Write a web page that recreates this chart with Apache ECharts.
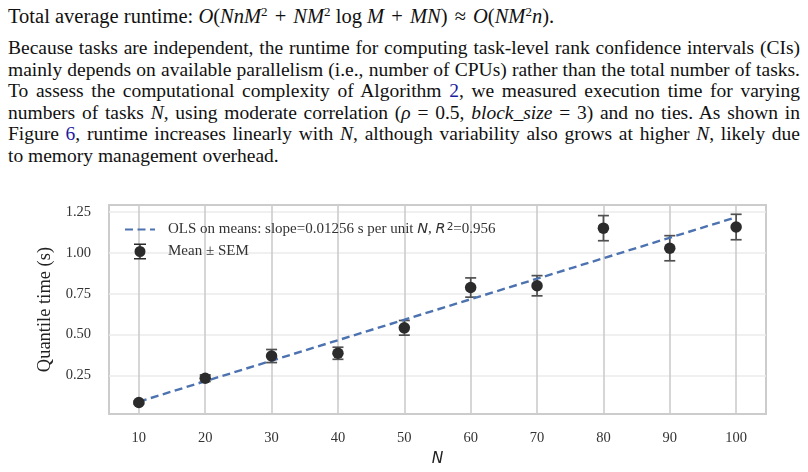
<!DOCTYPE html>
<html>
<head>
<meta charset="utf-8">
<script src="https://cdn.jsdelivr.net/npm/echarts@6/dist/echarts.min.js"></script>
<style>
  html, body { margin: 0; padding: 0; background: #fff; }
  body { width: 808px; height: 472px; position: relative; overflow: hidden;
         font-family: "Liberation Serif", "Times New Roman", serif; color: #111; }
  .ln { position: absolute; left: 8px; width: 792px; font-size: 19.5px; line-height: 21.5px;
        white-space: nowrap; }
  .j { text-align: justify; text-align-last: justify; }
  sup { font-size: 13px; line-height: 0; vertical-align: 7px; }
  .op { padding: 0 2px; }
  .ref { color: #1c1ca0; }
  #chart { position: absolute; left: 0; top: 190px; width: 808px; height: 282px; }
</style>
</head>
<body>
<div class="ln" style="top:6px; font-size:20.5px">Total average runtime: <i>O</i>(<i>NnM</i><sup>2</sup> <span class="op">+</span> <i>NM</i><sup>2</sup> log <i>M</i> <span class="op">+</span> <i>MN</i>) <span class="op">≈</span> <i>O</i>(<i>NM</i><sup>2</sup><i>n</i>).</div>
<div class="ln j" style="top:37px">Because tasks are independent, the runtime for computing task-level rank confidence intervals (CIs)</div>
<div class="ln j" style="top:58.5px">mainly depends on available parallelism (i.e., number of CPUs) rather than the total number of tasks.</div>
<div class="ln j" style="top:80px">To assess the computational complexity of Algorithm <span class="ref">2</span>, we measured execution time for varying</div>
<div class="ln j" style="top:101.5px">numbers of tasks <i>N</i>, using moderate correlation (<i>ρ</i> = 0.5, <i>block_size</i> = 3) and no ties. As shown in</div>
<div class="ln j" style="top:123px">Figure <span class="ref">6</span>, runtime increases linearly with <i>N</i>, although variability also grows at higher <i>N</i>, likely due</div>
<div class="ln" style="top:144.5px">to memory management overhead.</div>

<div id="chart"></div>
<script>
// measured runtimes
const nValues = [10, 20, 30, 40, 50, 60, 70, 80, 90, 100];
const meanTime = [0.083, 0.232, 0.368, 0.385, 0.541, 0.788, 0.799, 1.152, 1.029, 1.159];
const semTime = [0.008, 0.02, 0.04, 0.037, 0.045, 0.059, 0.062, 0.077, 0.077, 0.078];

// OLS fit on the means, end points
const olsN = [10, 100];
const olsTime = [0.088, 1.219];

const xTicks = [10, 20, 30, 40, 50, 60, 70, 80, 90, 100];
const yTicks = [0.25, 0.5, 0.75, 1.0, 1.25];

const serif = "Liberation Serif";
const olsName = "ols";
const semName = "Mean ± SEM";

let chart = echarts.init(document.getElementById("chart"));

let option = {
  animation: false,
  grid: {
    left: 109, right: 42, top: 15, bottom: 57,
    show: true,
    borderColor: "#cccccc",
    borderWidth: 2
  },
  legend: {
    orient: "vertical",
    left: 124,
    top: 31.5,
    padding: 0,
    itemWidth: 30,
    itemHeight: 16,
    itemGap: 5,
    selectedMode: false,
    textStyle: {
      fontFamily: serif,
      fontSize: 15,
      color: "#333",
      lineHeight: 16,
      padding: [0, 0, 0, 8],
      rich: {
        i: { fontFamily: "DejaVu Sans", fontStyle: "italic", fontSize: 14.5, color: "#333", lineHeight: 16 },
        sup: { fontFamily: "DejaVu Sans", fontSize: 10.5, color: "#333", verticalAlign: "top", lineHeight: 16, padding: [0, 0, 6, 1] }
      }
    },
    formatter: function (name) {
      if (name === olsName) {
        return "OLS on means: slope=0.01256 s per unit {i|N}, {i|R}{sup|2}=0.956";
      }
      return name;
    },
    data: [
      { name: olsName, itemStyle: { opacity: 0 } },
      {
        name: semName,
        icon: "path://M0,0H12V1.5H6.75V14.5H12V16H0V14.5H5.25V1.5H0Z M6,2.5A5.5,5.5 0 1,1 6,13.5A5.5,5.5 0 1,1 6,2.5Z"
      }
    ]
  },
  xAxis: {
    type: "value",
    min: 5.5,
    max: 104.5,
    name: "N",
    nameLocation: "middle",
    nameGap: 33,
    nameTextStyle: { fontFamily: "DejaVu Sans", fontStyle: "italic", fontSize: 15.5, color: "#222" },
    axisLine: { show: false },
    axisTick: { show: false, customValues: xTicks },
    axisLabel: { customValues: xTicks, margin: 17, fontFamily: serif, fontSize: 14.5, color: "#333" },
    splitLine: { show: true, lineStyle: { color: "#cccccc", width: 1.6 } }
  },
  yAxis: {
    type: "value",
    min: 0.012,
    max: 1.294,
    name: "Quantile time (s)",
    nameLocation: "middle",
    nameGap: 51,
    nameTextStyle: { fontFamily: serif, fontSize: 18.5, color: "#222" },
    axisLine: { show: false },
    axisTick: { show: false, customValues: yTicks },
    axisLabel: {
      customValues: yTicks,
      margin: 18,
      fontFamily: serif,
      fontSize: 14.5,
      color: "#333",
      formatter: function (v) { return v.toFixed(2); }
    },
    splitLine: { show: true, lineStyle: { color: "#ebebeb", width: 1.6 } }
  },
  series: [
    {
      name: semName,
      type: "custom",
      z: 2,
      data: nValues.map((n, i) => [n, meanTime[i], semTime[i]]),
      renderItem: function (params, api) {
        let n = api.value(0);
        let m = api.value(1);
        let s = api.value(2);
        let top = api.coord([n, m + s]);
        let bot = api.coord([n, m - s]);
        let hw = 5.5;
        let st = { stroke: "#505050", lineWidth: 1.7 };
        return {
          type: "group",
          children: [
            { type: "line", shape: { x1: top[0], y1: top[1], x2: bot[0], y2: bot[1] }, style: st },
            { type: "line", shape: { x1: top[0] - hw, y1: top[1], x2: top[0] + hw, y2: top[1] }, style: st },
            { type: "line", shape: { x1: bot[0] - hw, y1: bot[1], x2: bot[0] + hw, y2: bot[1] }, style: st }
          ]
        };
      },
      itemStyle: { color: "#2b2b2b" }
    },
    {
      name: olsName,
      type: "line",
      z: 3,
      data: olsN.map((n, i) => [n, olsTime[i]]),
      symbol: "none",
      color: "#4c72b0",
      lineStyle: { color: "#4c72b0", width: 2.4, type: [8, 4.5] }
    },
    {
      name: semName,
      type: "scatter",
      z: 4,
      data: nValues.map((n, i) => [n, meanTime[i]]),
      symbolSize: 11.5,
      itemStyle: { color: "#2b2b2b", opacity: 1 }
    }
  ]
};

chart.setOption(option);
</script>
</body>
</html>
